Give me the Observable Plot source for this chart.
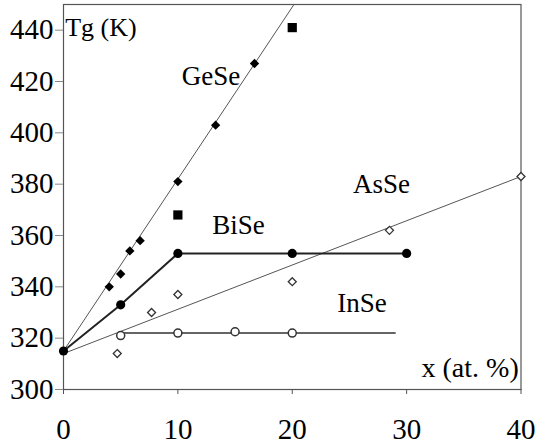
<!DOCTYPE html>
<html>
<head>
<meta charset="utf-8">
<script src="https://cdn.jsdelivr.net/npm/d3@7"></script>
<script src="https://cdn.jsdelivr.net/npm/@observablehq/plot@0.6"></script>
<style>
  html, body { margin: 0; padding: 0; background: #fff; }
  svg, svg g, svg text { font-family: "Liberation Serif", "Times New Roman", serif !important; }
</style>
</head>
<body>
<div id="chart"></div>
<script>
// ---- data ----
const xTicks = [0, 10, 20, 30, 40];
const yTicks = [300, 320, 340, 360, 380, 400, 420, 440];

// GeSe (filled diamonds) and its fit line
const geX = [4, 5, 5.8, 6.7, 10, 13.3, 16.7];
const geY = [340, 345, 354, 358, 381, 403, 427];
const geLineX = [0, 20.15];
const geLineY = [315, 450];

// filled squares
const sqX = [10, 20];
const sqY = [368, 441];

// BiSe (filled circles, polyline)
const biX = [0, 5, 10, 20, 30];
const biY = [315, 333, 353, 353, 353];

// AsSe (open diamonds) and its fit line
const asX = [4.7, 7.7, 10, 20, 28.5, 40];
const asY = [314, 330, 337, 342, 362, 383];
const asLineX = [0, 40];
const asLineY = [314, 383];

// InSe (open circles) and its line
const inX = [5, 10, 15, 20];
const inY = [321, 322, 322.5, 322];
const inLineX = [5, 29];
const inLineY = [322, 322];

// series labels
const labText = ["GeSe", "AsSe", "BiSe", "InSe"];
const labX = [12.9, 27.8, 15.3, 26.1];
const labY = [422, 380, 363.8, 333.5];

// axis titles
const yTitle = "Tg (K)";
const xTitle = "x (at. %)";

const serif = "'Liberation Serif', 'Times New Roman', serif";
const pts = (xs, ys) => xs.map((x, i) => ({x, y: ys[i]}));

const chart = Plot.plot({
  width: 540,
  height: 447,
  marginLeft: 63,
  marginRight: 19.5,
  marginTop: 4,
  marginBottom: 58,
  style: {fontFamily: serif, background: "#fff", color: "#000"},
  x: {domain: [0, 40], label: null},
  y: {domain: [300, 450], label: null},
  marks: [
    Plot.frame({stroke: "#555", strokeWidth: 1.2}),
    Plot.axisX({ticks: xTicks, tickSize: 5, tickPadding: 24, fontSize: 29, fontFamily: serif, stroke: "#555", label: null}),
    Plot.axisY({ticks: yTicks, tickSize: 8, tickPadding: 2, fontSize: 29, fontFamily: serif, stroke: "#888", label: null}),
    Plot.line(pts(geLineX, geLineY), {x: "x", y: "y", stroke: "#555", strokeWidth: 1}),
    Plot.line(pts(asLineX, asLineY), {x: "x", y: "y", stroke: "#555", strokeWidth: 1}),
    Plot.line(pts(inLineX, inLineY), {x: "x", y: "y", stroke: "#333", strokeWidth: 1.4}),
    Plot.line(pts(biX, biY), {x: "x", y: "y", stroke: "#222", strokeWidth: 2}),
    Plot.dot(pts(geX, geY), {x: "x", y: "y", symbol: "diamond2", r: 4.2, fill: "#000", stroke: "none"}),
    Plot.dot(pts(sqX, sqY), {x: "x", y: "y", symbol: "square", r: 5.2, fill: "#000", stroke: "none"}),
    Plot.dot(pts(biX, biY), {x: "x", y: "y", symbol: "circle", r: 4.6, fill: "#000", stroke: "none"}),
    Plot.dot(pts(asX, asY), {x: "x", y: "y", symbol: "diamond2", r: 3.6, fill: "#fff", stroke: "#333", strokeWidth: 1.3}),
    Plot.dot(pts(inX, inY), {x: "x", y: "y", symbol: "circle", r: 4, fill: "#fff", stroke: "#333", strokeWidth: 1.5}),
    Plot.text(labText.map((t, i) => ({t, x: labX[i], y: labY[i]})), {x: "x", y: "y", text: "t", fontSize: 27, fontFamily: serif, fill: "#000"}),
    Plot.text([{t: yTitle, x: 0.15, y: 441}], {x: "x", y: "y", text: "t", fontSize: 26, fontFamily: serif, textAnchor: "start", fill: "#000"}),
    Plot.text([{t: xTitle, x: 39.8, y: 308.5}], {x: "x", y: "y", text: "t", fontSize: 28, fontFamily: serif, textAnchor: "end", fill: "#000"})
  ]
});
document.getElementById("chart").appendChild(chart);
</script>
</body>
</html>
